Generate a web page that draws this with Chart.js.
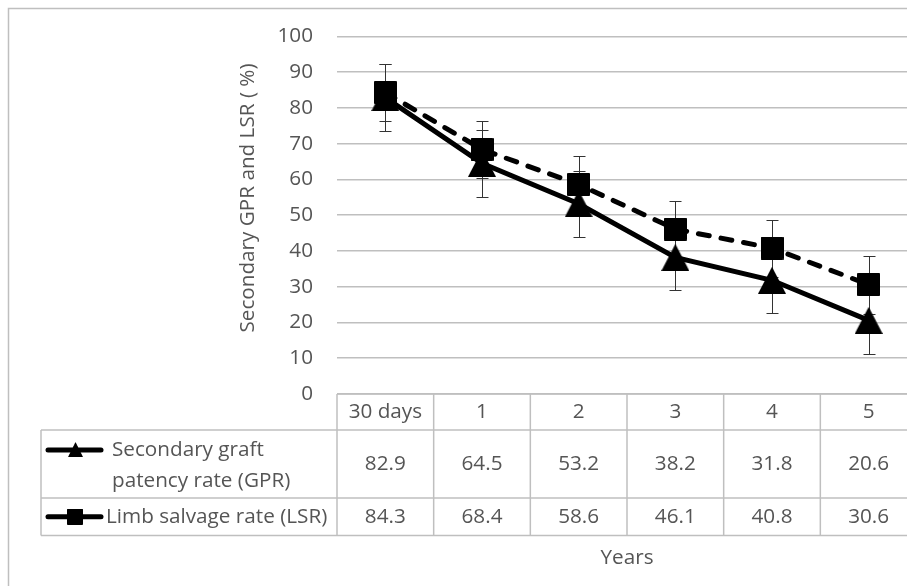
<!DOCTYPE html>
<html>
<head>
<meta charset="utf-8">
<style>
  html, body { margin: 0; padding: 0; background: #fff; overflow: hidden; }
  #wrap { position: relative; width: 930px; height: 600px; }
</style>
</head>
<body>
<div id="wrap">
  <canvas id="myChart" width="930" height="600"></canvas>
</div>

<script src="https://cdn.jsdelivr.net/npm/chart.js"></script>

<script>
const categories = ['30 days', '1', '2', '3', '4', '5'];
const gprValues = [82.9, 64.5, 53.2, 38.2, 31.8, 20.6];
const lsrValues = [84.3, 68.4, 58.6, 46.1, 40.8, 30.6];
// error bar half-widths
const gprErrors = [9.3, 9.4, 9.3, 9.2, 9.1, 9.3];
const lsrErrors = [8.0, 8.0, 8.0, 8.0, 8.0, 8.1];
const gprLabel = ['Secondary graft', 'patency rate (GPR)'];
const lsrLabel = ['Limb salvage rate (LSR)'];
const yTitle = 'Secondary GPR and LSR ( %)';
const xTitle = 'Years';

const textColor = '#555555';
const lineColor = '#bfbfbf';
const fontSize = 20.7;
const textFont = fontSize + "px 'Open Sans', sans-serif";

Chart.defaults.font.family = "'Open Sans', sans-serif";
Chart.defaults.font.size = fontSize;
Chart.defaults.color = textColor;

function makeTriangle(w, h) {
  const c = document.createElement('canvas');
  c.width = w; c.height = h;
  const g = c.getContext('2d');
  g.fillStyle = '#000';
  g.beginPath();
  g.moveTo(w / 2, 0);
  g.lineTo(w, h);
  g.lineTo(0, h);
  g.closePath();
  g.fill();
  return c;
}

function makeSquare(s) {
  const c = document.createElement('canvas');
  c.width = s; c.height = s;
  const g = c.getContext('2d');
  g.fillStyle = '#000';
  g.strokeStyle = '#000';
  g.lineJoin = 'round';
  g.lineWidth = 2;
  g.fillRect(1, 1, s - 2, s - 2);
  g.strokeRect(1, 1, s - 2, s - 2);
  return c;
}

const triangleMarker = makeTriangle(28, 27);
const squareMarker = makeSquare(23);

function line(ctx, x1, y1, x2, y2) {
  ctx.beginPath();
  ctx.moveTo(x1, y1);
  ctx.lineTo(x2, y2);
  ctx.stroke();
}

const tablePlugin = {
  id: 'tablePlugin',
  beforeDatasetsDraw(chart) {
    const ctx = chart.ctx;
    const xs = chart.scales.x, ys = chart.scales.y;
    ctx.save();
    ctx.strokeStyle = '#333';
    ctx.lineWidth = 1;
    [[gprValues, gprErrors], [lsrValues, lsrErrors]].forEach(([vals, errs]) => {
      vals.forEach((v, i) => {
        const px = Math.round(xs.getPixelForValue(i)) + 0.5;
        const top = Math.round(ys.getPixelForValue(v + errs[i])) + 0.5;
        const bot = Math.round(ys.getPixelForValue(v - errs[i])) + 0.5;
        line(ctx, px, top, px, bot);
        line(ctx, px - 6, top, px + 6, top);
        line(ctx, px - 6, bot, px + 6, bot);
      });
    });
    ctx.restore();
  },
  afterDraw(chart) {
    const ctx = chart.ctx;
    const ca = chart.chartArea;
    const xs = chart.scales.x;
    const colW = (ca.right - ca.left) / categories.length;
    const top = ca.bottom;
    const r1 = top + 36, r2 = top + 104, r3 = top + 141.5;
    const legendLeft = 41;

    ctx.save();
    // outer frame (only top and left edges are in view)
    ctx.strokeStyle = lineColor;
    ctx.lineWidth = 1.5;
    ctx.beginPath();
    ctx.moveTo(8.5, chart.height);
    ctx.lineTo(8.5, 8.5);
    ctx.lineTo(chart.width, 8.5);
    ctx.stroke();

    // data table grid
    line(ctx, ca.left, top, ca.right, top);
    line(ctx, legendLeft, r1, ca.right, r1);
    line(ctx, legendLeft, r2, ca.right, r2);
    line(ctx, legendLeft, r3, ca.right, r3);
    line(ctx, legendLeft, r1, legendLeft, r3);
    for (let i = 0; i <= categories.length; i++) {
      const x = ca.left + i * colW;
      line(ctx, x, top, x, r3);
    }

    // table texts
    ctx.fillStyle = textColor;
    ctx.font = textFont;
    ctx.textAlign = 'center';
    ctx.textBaseline = 'middle';
    categories.forEach((c, i) => {
      const cx = xs.getPixelForValue(i);
      ctx.fillText(c, cx, top + 18);
      ctx.fillText(gprValues[i].toFixed(1), cx, (r1 + r2) / 2);
      ctx.fillText(lsrValues[i].toFixed(1), cx, (r2 + r3) / 2);
    });

    ctx.textAlign = 'left';
    ctx.fillText(gprLabel[0], 112, r1 + 20);
    ctx.fillText(gprLabel[1], 112, r1 + 51);
    ctx.fillText(lsrLabel[0], 106, (r2 + r3) / 2);

    // legend keys
    ctx.strokeStyle = '#000';
    ctx.lineWidth = 5;
    ctx.lineCap = 'round';
    line(ctx, 48, r1 + 20, 101, r1 + 20);
    line(ctx, 48, (r2 + r3) / 2, 101, (r2 + r3) / 2);
    ctx.drawImage(triangleMarker, 68, r1 + 12, 15, 15);
    ctx.drawImage(squareMarker, 67, (r2 + r3) / 2 - 8, 16, 16);

    // axis titles
    ctx.fillStyle = textColor;
    ctx.textAlign = 'center';
    ctx.fillText(xTitle, (ca.left + ca.right) / 2, top + 164);
    ctx.translate(248, 198);
    ctx.rotate(-Math.PI / 2);
    ctx.fillText(yTitle, 0, 0);
    ctx.restore();
  }
};

const config = {
  type: 'line',
  data: {
    labels: categories,
    datasets: [{
      label: lsrLabel[0],
      data: lsrValues,
      borderColor: '#000',
      backgroundColor: '#000',
      borderWidth: 5,
      borderDash: [11, 12],
      borderCapStyle: 'round',
      pointStyle: squareMarker,
      tension: 0
    }, {
      label: gprLabel.join(' '),
      data: gprValues,
      borderColor: '#000',
      backgroundColor: '#000',
      borderWidth: 5,
      pointStyle: triangleMarker,
      tension: 0
    }]
  },
  options: {
    responsive: false,
    animation: false,
    layout: { padding: { left: 0, top: 36, right: 13, bottom: 206 } },
    plugins: {
      legend: { display: false },
      tooltip: { enabled: false }
    },
    scales: {
      x: {
        type: 'category',
        display: false,
        offset: true
      },
      y: {
        min: 0,
        max: 100,
        ticks: { stepSize: 10, padding: 24, color: textColor, font: { size: fontSize } },
        grid: { color: lineColor, lineWidth: 1.5, drawTicks: false },
        border: { display: false },
        afterFit: scale => { scale.width = 337; }
      }
    }
  },
  plugins: [tablePlugin]
};

const ctx = document.getElementById('myChart');
const gprChart = new Chart(ctx, config);
</script>
</body>
</html>
